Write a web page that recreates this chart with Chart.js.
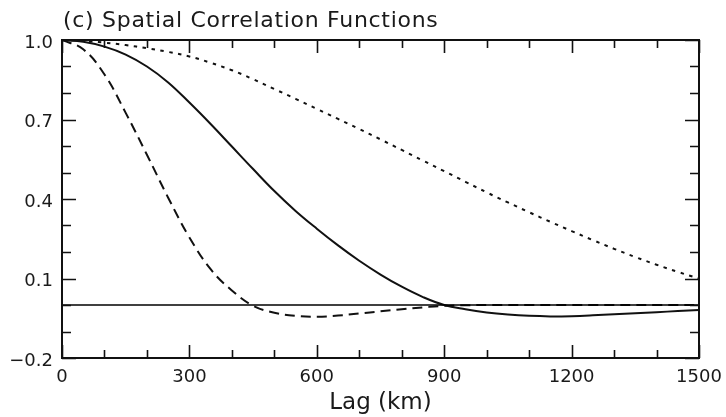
<!DOCTYPE html>
<html>
<head>
<meta charset="utf-8">
<script src="https://cdn.jsdelivr.net/npm/chart.js@4"></script>
<style>
  html, body { margin: 0; padding: 0; background: #fff; }
</style>
</head>
<body>
<canvas id="chart" width="726" height="417"></canvas>
<script>
// lag in km, one point every 50 km
const lagKm = [0, 50, 100, 150, 200, 250, 300, 350, 400, 450, 500, 550, 600, 650, 700, 750,
  800, 850, 900, 950, 1000, 1050, 1100, 1150, 1200, 1250, 1300, 1350, 1400, 1450, 1500];

// solid curve
const solidCorr = [1.0, 0.993, 0.975, 0.945, 0.90, 0.84, 0.764, 0.683, 0.598, 0.513, 0.43, 0.355,
  0.288, 0.225, 0.167, 0.115, 0.069, 0.03, 0.0, -0.016, -0.028, -0.036, -0.041, -0.043, -0.042,
  -0.039, -0.035, -0.031, -0.027, -0.023, -0.019];

// dashed curve
const dashedCorr = [1.0, 0.965, 0.87, 0.725, 0.567, 0.405, 0.255, 0.135, 0.055, -0.003, -0.029, -0.041,
  -0.044, -0.04, -0.032, -0.024, -0.016, -0.009, -0.003, -0.001, 0.0, 0.0, 0.0, 0.0, 0.0,
  0.0, 0.0, 0.0, 0.0, 0.0, 0.0];

// dotted curve
const dottedCorr = [1.0, 0.997, 0.99, 0.981, 0.969, 0.955, 0.938, 0.914, 0.886, 0.852, 0.815, 0.778,
  0.74, 0.702, 0.664, 0.625, 0.585, 0.545, 0.505, 0.465, 0.425, 0.387, 0.35, 0.314, 0.279,
  0.245, 0.212, 0.181, 0.152, 0.125, 0.10];

// zero reference line
const zeroLag = [0, 1500];
const zeroCorr = [0, 0];

const xTickLabels = [0, 300, 600, 900, 1200, 1500];
const yTickLabels = [-0.2, 0.1, 0.4, 0.7, 1.0];
const chartTitle = "(c) Spatial Correlation Functions";
const xTitle = "Lag (km)";

const toPoints = (xs, ys) => xs.map((v, i) => ({ x: v, y: ys[i] }));
const ink = "#111";

// inward ticks on all four sides, frame and the panel title
const frameTicks = {
  id: "frameTicks",
  afterDraw(chart) {
    const { ctx, chartArea: a, scales: { x, y } } = chart;
    ctx.save();
    ctx.strokeStyle = ink;
    ctx.lineWidth = 1.6;
    ctx.beginPath();
    for (let v = 0; v <= 1500; v += 100) {
      const px = Math.round(x.getPixelForValue(v)) + 0.5;
      const len = v % 300 === 0 ? 13 : 8;
      ctx.moveTo(px, a.bottom);
      ctx.lineTo(px, a.bottom - len);
      ctx.moveTo(px, a.top);
      ctx.lineTo(px, a.top + len);
    }
    for (let i = -2; i <= 10; i++) {
      const py = Math.round(y.getPixelForValue(i / 10)) + 0.5;
      const len = (i + 2) % 3 === 0 ? 14 : 9;
      ctx.moveTo(a.left, py);
      ctx.lineTo(a.left + len, py);
      ctx.moveTo(a.right, py);
      ctx.lineTo(a.right - len, py);
    }
    ctx.stroke();
    ctx.lineWidth = 2;
    ctx.strokeRect(a.left, a.top, a.right - a.left, a.bottom - a.top);

    ctx.fillStyle = "#1a1a1a";
    ctx.font = '22px "DejaVu Sans"';
    if ("letterSpacing" in ctx) ctx.letterSpacing = "0.7px";
    ctx.textAlign = "left";
    ctx.textBaseline = "alphabetic";
    ctx.fillText(chartTitle, 63, 27);
    ctx.restore();
  }
};

new Chart(document.getElementById("chart"), {
  type: "line",
  data: {
    datasets: [
      {
        label: "zero",
        data: toPoints(zeroLag, zeroCorr),
        borderColor: "#000",
        borderWidth: 1.5,
        tension: 0
      },
      {
        label: "solid",
        data: toPoints(lagKm, solidCorr),
        borderColor: ink,
        borderWidth: 2
      },
      {
        label: "dashed",
        data: toPoints(lagKm, dashedCorr),
        borderColor: ink,
        borderWidth: 2,
        borderDash: [10, 6]
      },
      {
        label: "dotted",
        data: toPoints(lagKm, dottedCorr),
        borderColor: ink,
        borderWidth: 2,
        borderDash: [3.5, 5.5]
      }
    ]
  },
  options: {
    responsive: false,
    animation: false,
    events: [],
    elements: {
      point: { radius: 0 },
      line: { tension: 0.4, fill: false }
    },
    layout: { padding: { top: 40, left: 0, right: 27, bottom: 0 } },
    plugins: {
      legend: { display: false },
      tooltip: { enabled: false },
      title: { display: false }
    },
    scales: {
      x: {
        type: "linear",
        min: 0,
        max: 1500,
        grid: { display: false, drawTicks: false },
        border: { display: false },
        afterBuildTicks: (scale) => {
          scale.ticks = xTickLabels.map((v) => ({ value: v }));
        },
        afterFit: (scale) => {
          scale.height = 59;
          scale.paddingLeft = 0;
          scale.paddingRight = 0;
        },
        ticks: {
          padding: 9,
          color: "#1a1a1a",
          font: { family: "DejaVu Sans", size: 18 },
          maxRotation: 0,
          autoSkip: false,
          callback: (v) => String(v)
        },
        title: {
          display: true,
          text: xTitle,
          color: "#1a1a1a",
          font: { family: "DejaVu Sans", size: 23 },
          padding: { top: 0, bottom: 0 }
        }
      },
      y: {
        type: "linear",
        min: -0.2,
        max: 1.0,
        grid: { display: false, drawTicks: false },
        border: { display: false },
        afterBuildTicks: (scale) => {
          scale.ticks = yTickLabels.map((v) => ({ value: v }));
        },
        afterFit: (scale) => {
          scale.width = 62;
          scale.paddingTop = 0;
          scale.paddingBottom = 0;
        },
        ticks: {
          padding: 9,
          labelOffset: 3,
          color: "#1a1a1a",
          font: { family: "DejaVu Sans", size: 18 },
          autoSkip: false,
          callback: (v) => v.toFixed(1).replace("-", "\u2212")
        }
      }
    }
  },
  plugins: [frameTicks]
});
</script>
</body>
</html>
